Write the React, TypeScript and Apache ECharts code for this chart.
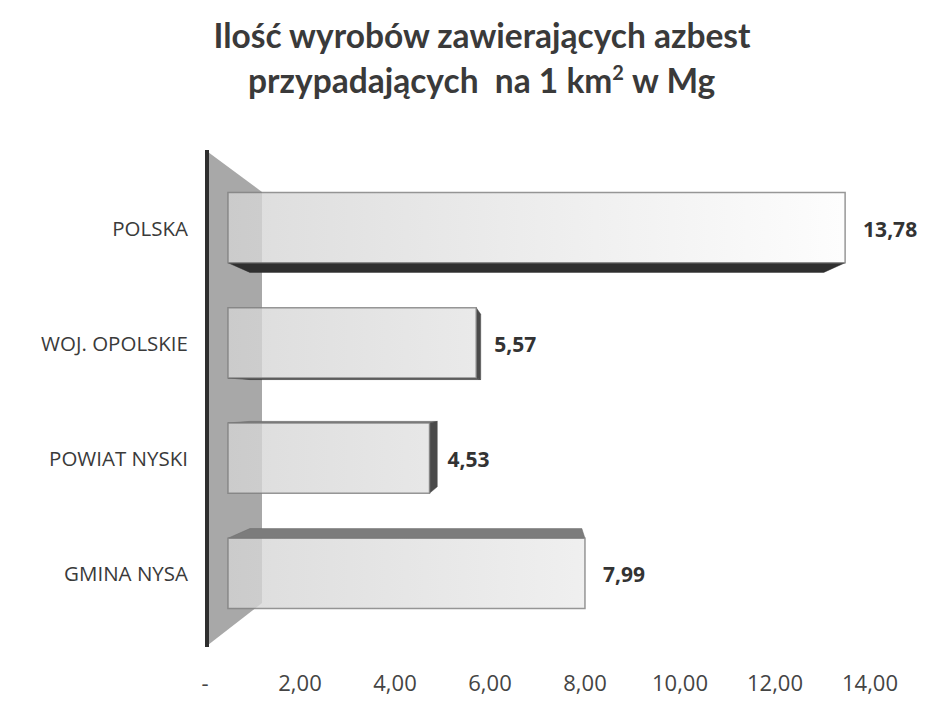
import React, { useEffect, useRef } from "react";
import * as echarts from "echarts";

const categories = ["POLSKA", "WOJ. OPOLSKIE", "POWIAT NYSKI", "GMINA NYSA"];
const values = [13.78, 5.57, 4.53, 7.99];
const tickValues = [0, 2, 4, 6, 8, 10, 12, 14];
const titleLine1 = "Ilość wyrobów zawierających azbest";
const titleLine2a = "przypadających  na 1 km";
const titleSup = "2";
const titleLine2b = " w Mg";

const fmt = (v: number) => (v === 0 ? "-" : v.toFixed(2).replace(".", ","));

// perspective helper (vanishing point + depth scale)
const VX = 540;
const VY = 400;
const S = 0.93;

export default function App() {
  const ref = useRef<HTMLDivElement>(null);
  useEffect(() => {
    document.body.style.margin = "0";
    const chart = echarts.init(ref.current!, undefined, { renderer: "svg" });
    const data = values.map((v, i) => [v, i]);
    const option: any = {
      animation: false,
      backgroundColor: "#ffffff",
      title: {
        text: `{a|${titleLine1}}\n{a|${titleLine2a}}{s|${titleSup}}{a|${titleLine2b}}`,
        left: 477,
        textAlign: "center",
        top: 7,
        textStyle: {
          rich: {
            a: { fontFamily: "Lato", fontWeight: "bold", fontSize: 33.5, color: "#3a3a3a", lineHeight: 45 },
            s: { fontFamily: "Lato", fontWeight: "bold", fontSize: 20, color: "#3a3a3a", lineHeight: 45, padding: [0, 0, 16, 0] },
          },
        },
      },
      graphic: [
        {
          type: "polygon",
          z: -10,
          shape: { points: [[208, 152], [262, 192], [262, 603], [208, 645]] },
          style: { fill: "#a8a8a8" },
        },
        {
          type: "rect",
          z: -9,
          shape: { x: 205, y: 150, width: 4, height: 497 },
          style: { fill: "#2e2e2e" },
        },
      ],
      grid: [
        { left: 205, right: 72, top: 170, bottom: 50 },
        { left: 226, right: 87, top: 170, bottom: 79 },
      ],
      xAxis: [
        {
          gridIndex: 0,
          type: "value",
          min: 0,
          max: 14,
          interval: 2,
          axisLine: { show: false },
          axisTick: { show: false },
          splitLine: { show: false },
          axisLabel: {
            margin: 11,
            fontFamily: "Open Sans",
            fontSize: 22,
            color: "#444",
            formatter: (v: number) => (tickValues.includes(v) ? fmt(v) : ""),
          },
        },
        {
          gridIndex: 1,
          type: "value",
          min: 0,
          max: 14,
          show: false,
        },
      ],
      yAxis: [
        { gridIndex: 0, type: "value", show: false },
        {
          gridIndex: 1,
          type: "category",
          inverse: true,
          data: categories,
          axisLine: { show: false },
          axisTick: { show: false },
          axisLabel: {
            margin: 38,
            fontFamily: "Open Sans",
            fontSize: 20.5,
            color: "#3a3a3a",
          },
        },
      ],
      series: [
        {
          type: "custom",
          xAxisIndex: 1,
          yAxisIndex: 1,
          z: 10,
          encode: { x: 0, y: 1 },
          data,
          renderItem: (params: any, api: any) => {
            const val = api.value(0);
            const cat = api.value(1);
            const p0 = api.coord([0, cat]);
            const p1 = api.coord([val, cat]);
            const h = api.size([0, 1])[1] * 0.61;
            const x0 = p0[0] + 2;
            const x1 = p1[0];
            const y0 = p0[1] - h / 2;
            const y1 = p0[1] + h / 2;
            const bk = (x: number, y: number) => [VX + S * (x - VX), VY + S * (y - VY)];
            const children: any[] = [];
            if (y1 < VY) {
              children.push({
                type: "polygon",
                shape: { points: [[x0, y1], [x1, y1], bk(x1, y1), bk(x0, y1)] },
                style: { fill: "#2f2f2f", stroke: "#2f2f2f", lineWidth: 0.5 },
              });
            }
            if (y0 > VY) {
              children.push({
                type: "polygon",
                shape: { points: [[x0, y0], [x1, y0], bk(x1, y0), bk(x0, y0)] },
                style: { fill: "#7c7c7c", stroke: "#6a6a6a", lineWidth: 0.5 },
              });
            }
            if (x1 < VX) {
              children.push({
                type: "polygon",
                shape: { points: [[x1, y0], [x1, y1], bk(x1, y1), bk(x1, y0)] },
                style: { fill: "#4a4a4a", stroke: "#4a4a4a", lineWidth: 0.5 },
              });
            }
            children.push({
              type: "rect",
              shape: { x: x0, y: y0, width: x1 - x0, height: y1 - y0 },
              style: {
                fill: new echarts.graphic.LinearGradient(228, 0, 850, 0, [
                  { offset: 0, color: "#d4d4d4" },
                  { offset: 1, color: "#fdfdfd" },
                ], true),
                opacity: 0.8,
                stroke: "#7d7d7d",
                lineWidth: 1.5,
              },
            });
            children.push({
              type: "text",
              x: x1 + 18,
              y: p0[1] + 1,
              style: {
                text: fmt(val),
                fontFamily: "Open Sans",
                fontWeight: "bold",
                fontSize: 21,
                fill: "#333",
                align: "left",
                verticalAlign: "middle",
              },
            });
            return { type: "group", children };
          },
        },
      ],
    };
    chart.setOption(option);
    return () => chart.dispose();
  }, []);
  return <div ref={ref} style={{ width: 942, height: 710 }} />;
}
